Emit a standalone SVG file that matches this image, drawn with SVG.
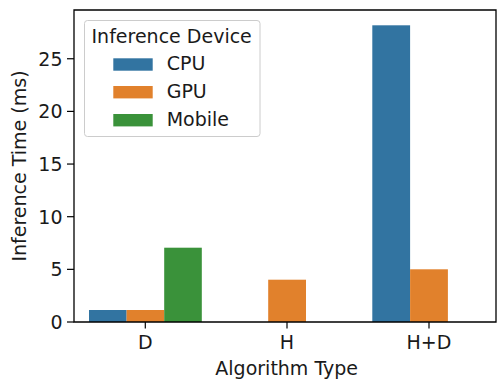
<svg xmlns="http://www.w3.org/2000/svg" width="497" height="379" viewBox="0 0 497 379">
<style>
text{font-family:"DejaVu Sans","Liberation Sans",sans-serif;font-size:19px;fill:#1a1a1a}
.cpu{fill:#3274A1}.gpu{fill:#E1812C}.mob{fill:#3A923A}
.tick{stroke:#000;stroke-width:1.2}
.spine{stroke:#000;stroke-width:1.3;fill:none}
</style>
<rect x="0" y="0" width="497" height="379" fill="#fff"/>
<g id="bars">
<rect class="cpu" x="89" y="310" width="37.6" height="12"/>
<rect class="gpu" x="126.6" y="310" width="37.6" height="12"/>
<rect class="mob" x="164.2" y="247.7" width="37.6" height="74.3"/>
<rect class="gpu" x="268.2" y="279.7" width="37.8" height="42.3"/>
<rect class="cpu" x="372.3" y="25.3" width="37.8" height="296.7"/>
<rect class="gpu" x="410.1" y="269.3" width="37.8" height="52.7"/>
</g>
<g id="axes">
<path class="spine" d="M74,10 H496 V322 H74 Z"/>
<g class="tick">
<line x1="67" y1="322" x2="74" y2="322"/>
<line x1="67" y1="269.35" x2="74" y2="269.35"/>
<line x1="67" y1="216.7" x2="74" y2="216.7"/>
<line x1="67" y1="164.05" x2="74" y2="164.05"/>
<line x1="67" y1="111.4" x2="74" y2="111.4"/>
<line x1="67" y1="58.75" x2="74" y2="58.75"/>
<line x1="145.3" y1="322" x2="145.3" y2="328.5"/>
<line x1="287" y1="322" x2="287" y2="328.5"/>
<line x1="429" y1="322" x2="429" y2="328.5"/>
</g>
<g text-anchor="end">
<text x="62.5" y="328.9">0</text>
<text x="62.5" y="276.2">5</text>
<text x="62.5" y="223.6">10</text>
<text x="62.5" y="170.9">15</text>
<text x="62.5" y="118.3">20</text>
<text x="62.5" y="65.6">25</text>
</g>
<g text-anchor="middle">
<text x="145.3" y="349">D</text>
<text x="287" y="349">H</text>
<text x="429" y="349">H+D</text>
<text x="286.7" y="375">Algorithm Type</text>
<text transform="translate(26,166) rotate(-90)">Inference Time (ms)</text>
</g>
</g>
<g id="legend">
<rect x="84.5" y="20.5" width="175.5" height="116" rx="3" fill="#fff" fill-opacity="0.8" stroke="#cccccc" stroke-width="1"/>
<text x="91.5" y="42.5">Inference Device</text>
<rect class="cpu" x="113.3" y="58.3" width="39.4" height="12.4"/>
<rect class="gpu" x="113.3" y="86" width="39.4" height="12.4"/>
<rect class="mob" x="113.3" y="114" width="39.4" height="12.4"/>
<text x="166.7" y="70">CPU</text>
<text x="166.7" y="98.3">GPU</text>
<text x="166.7" y="125.6">Mobile</text>
</g>
</svg>
